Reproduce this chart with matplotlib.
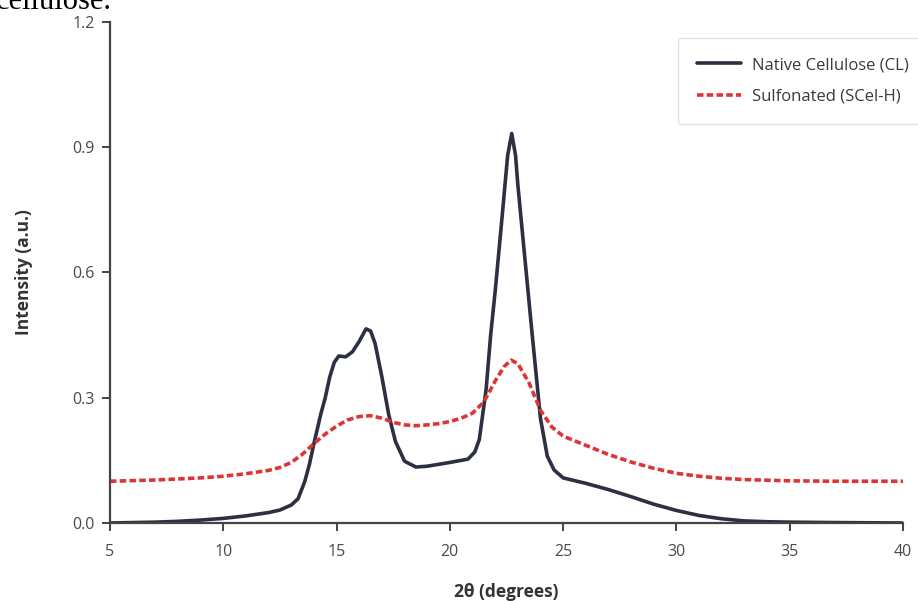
import numpy as np
import matplotlib.pyplot as plt

# XRD patterns
theta_cl = [5, 6, 7, 8, 9, 10, 11, 12, 12.5, 13, 13.3, 13.6, 13.8, 14, 14.3, 14.5,
            14.7, 14.9, 15.1, 15.4, 15.7, 16, 16.3, 16.5, 16.7, 17, 17.3, 17.6, 18,
            18.5, 19, 20, 20.8, 21.1, 21.3, 21.6, 21.8, 22, 22.3, 22.55, 22.73, 22.9,
            23.0, 23.3, 23.6, 24, 24.3, 24.6, 25, 26, 27, 28, 29, 30, 31, 32, 33, 34,
            35, 37, 40]
int_cl = [0.0, 0.001, 0.002, 0.004, 0.007, 0.011, 0.017, 0.025, 0.031, 0.043, 0.058,
          0.10, 0.14, 0.19, 0.26, 0.30, 0.35, 0.385, 0.40, 0.398, 0.41, 0.435, 0.465,
          0.46, 0.43, 0.35, 0.26, 0.195, 0.148, 0.134, 0.136, 0.145, 0.153, 0.17, 0.20,
          0.32, 0.45, 0.555, 0.73, 0.88, 0.933, 0.88, 0.81, 0.64, 0.47, 0.25, 0.16,
          0.127, 0.108, 0.095, 0.08, 0.063, 0.045, 0.03, 0.018, 0.01, 0.005, 0.003,
          0.002, 0.001, 0.0]

theta_scel = [5, 7, 9, 10, 11, 12, 12.5, 13, 13.5, 14, 14.5, 15, 15.5, 16, 16.5, 17,
              17.5, 18, 18.5, 19, 19.5, 20, 20.5, 21, 21.5, 22, 22.4, 22.7, 23, 23.5,
              24, 24.5, 25, 26, 27, 28, 29, 30, 31, 32, 33, 35, 37, 40]
int_scel = [0.100, 0.103, 0.108, 0.112, 0.118, 0.126, 0.133, 0.145, 0.165, 0.19,
            0.213, 0.232, 0.247, 0.255, 0.257, 0.251, 0.241, 0.235, 0.233, 0.235,
            0.238, 0.243, 0.251, 0.263, 0.29, 0.34, 0.375, 0.39, 0.382, 0.335, 0.27,
            0.23, 0.208, 0.186, 0.164, 0.146, 0.131, 0.119, 0.112, 0.107, 0.104, 0.101,
            0.1, 0.1]

xticks = [5, 10, 15, 20, 25, 30, 35, 40]
yticks = [0.0, 0.3, 0.6, 0.9, 1.2]

plt.rcParams['font.family'] = ['Open Sans', 'DejaVu Sans']

fig = plt.figure(figsize=(9.18, 6.01), dpi=100)
ax = fig.add_axes([0.1198, 0.1298, 0.8639, 0.8336])

ax.plot(theta_cl, int_cl, color='#2b3042', lw=2.6, label='Native Cellulose (CL)',
        solid_joinstyle='round', solid_capstyle='round')
ax.plot(theta_scel, int_scel, color='#dc3535', lw=2.6, ls=(0, (1.8, 0.9)),
        label='Sulfonated (SCel-H)')

ax.set_xlim(5, 40)
ax.set_ylim(0, 1.2)
ax.set_xticks(xticks)
ax.set_yticks(yticks)
ax.set_yticklabels([f"{v:.1f}" for v in yticks])

for s in ['top', 'right']:
    ax.spines[s].set_visible(False)
for s in ['left', 'bottom']:
    ax.spines[s].set_color('#444444')
    ax.spines[s].set_linewidth(1.6)
ax.tick_params(length=6, width=1.4, color='#444444', labelcolor='#4a4a4a',
               labelsize=11.5)
ax.tick_params(axis='x', pad=9)
ax.tick_params(axis='y', pad=5)

ax.set_xlabel('2θ (degrees)', fontsize=12.5, fontweight='bold', color='#333333',
              labelpad=17)
ax.set_ylabel('Intensity (a.u.)', fontsize=12.5, fontweight='bold', color='#333333',
              labelpad=28)

leg = ax.legend(loc='upper left', bbox_to_anchor=(678 / 918, 1 - 38 / 601),
                bbox_transform=fig.transFigure, fontsize=12, frameon=True,
                fancybox=True, handlelength=2.6, handletextpad=0.7,
                borderpad=1.15, labelspacing=0.95, borderaxespad=0)
leg.get_frame().set_edgecolor('#dddddd')
for t in leg.get_texts():
    t.set_color('#3a3a3a')

fig.text(-0.004, 1 - 9 / 601, 'cellulose.', family='Liberation Serif', fontsize=22,
         va='baseline', ha='left', color='black')

fig.savefig('out.png', dpi=100)
